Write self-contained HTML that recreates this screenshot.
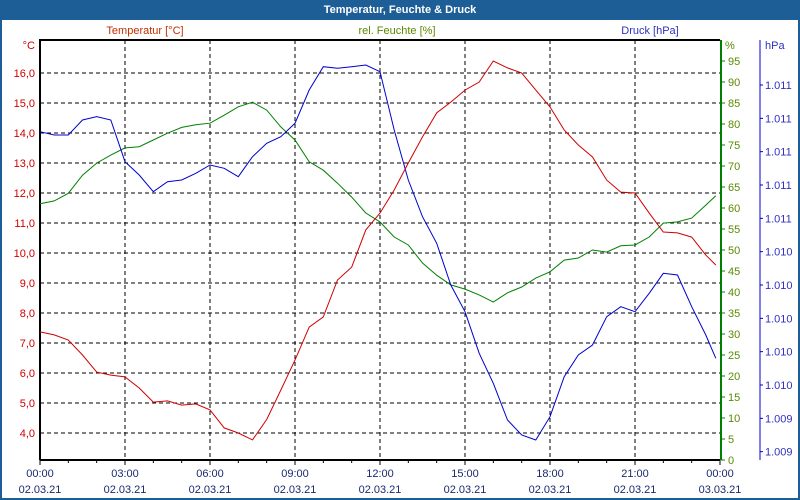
<!DOCTYPE html>
<html><head><meta charset="utf-8"><style>
body{margin:0;background:#fff;}
#wrap{position:relative;width:796px;height:496px;border:2px solid #1d5e96;overflow:hidden;background:#fff;}
#title{position:absolute;left:0;top:0;width:796px;height:18px;background:#1d5e96;color:#fff;font:bold 11px "Liberation Sans",sans-serif;text-align:center;line-height:17px;}
svg{position:absolute;left:-2px;top:-2px;}
</style></head><body>
<div id="wrap">
<div id="title">Temperatur, Feuchte &amp; Druck</div>
<svg id="chart" width="800" height="500" font-family="Liberation Sans, sans-serif" font-size="11"></svg>
</div>
<script>
const hours=[0,0.5,1,1.5,2,2.5,3,3.5,4,4.5,5,5.5,6,6.5,7,7.5,8,8.5,9,9.5,10,10.5,11,11.5,12,12.5,13,13.5,14,14.5,15,15.5,16,16.5,17,17.5,18,18.5,19,19.5,20,20.5,21,21.5,22,22.5,23,23.5,23.85];
const temperature=[7.37,7.27,7.1,6.6,6.03,5.93,5.87,5.5,5.03,5.07,4.93,4.97,4.77,4.17,4.0,3.77,4.45,5.43,6.43,7.53,7.87,9.1,9.53,10.77,11.33,12.1,13.0,13.87,14.67,15.03,15.43,15.7,16.4,16.17,16.0,15.43,14.87,14.1,13.6,13.2,12.43,12.03,12.0,11.33,10.7,10.67,10.53,9.93,9.6];
const humidity=[61.0,61.7,63.5,67.8,70.7,72.6,74.3,74.6,76.2,77.8,79.2,79.8,80.2,82.1,84.1,85.2,83.3,79.3,76.2,71,69,65.9,62.6,58.8,56.7,53.1,51.2,46.9,44,41.7,40.7,39.3,37.6,39.8,41.2,43.3,44.8,47.6,48.1,50,49.5,51,51.2,53.1,56.4,56.7,57.6,60.7,62.9];
const pressure=[1011.12,1011.10,1011.10,1011.19,1011.21,1011.19,1010.94,1010.86,1010.76,1010.82,1010.83,1010.87,1010.92,1010.90,1010.85,1010.97,1011.05,1011.09,1011.17,1011.37,1011.51,1011.50,1011.51,1011.52,1011.48,1011.13,1010.83,1010.61,1010.45,1010.20,1010.04,1009.79,1009.61,1009.39,1009.30,1009.27,1009.41,1009.65,1009.78,1009.84,1010.01,1010.07,1010.04,1010.15,1010.27,1010.26,1010.07,1009.90,1009.76];
const tempTicks=[4,5,6,7,8,9,10,11,12,13,14,15,16];
const humTicks=[0,5,10,15,20,25,30,35,40,45,50,55,60,65,70,75,80,85,90,95];
const presTicks=[1011.4,1011.2,1011.0,1010.8,1010.6,1010.4,1010.2,1010.0,1009.8,1009.6,1009.4,1009.2];
const presTickLabels=["1.011","1.011","1.011","1.011","1.011","1.010","1.010","1.010","1.010","1.010","1.009","1.009"];
const timeLabels=["00:00","03:00","06:00","09:00","12:00","15:00","18:00","21:00","00:00"];
const dateLabels=["02.03.21","02.03.21","02.03.21","02.03.21","02.03.21","02.03.21","02.03.21","02.03.21","03.03.21"];

const L=40,R=720,T=40,B=460;
const x=h=>L+h*(R-L)/24;
const yT=v=>73+(16-v)*30;
const yH=v=>B-v*4.2;
const yP=v=>85+(1011.4-v)*166.67;
const svg=document.getElementById('chart');
const NS='http://www.w3.org/2000/svg';
function mk(tag,attrs,txt){const e=document.createElementNS(NS,tag);for(const k in attrs)e.setAttribute(k,attrs[k]);if(txt!==undefined)e.textContent=txt;svg.appendChild(e);return e;}

tempTicks.forEach(v=>{
  const e=mk('line',{x1:L,x2:R,y1:yT(v),y2:yT(v),stroke:'#000','stroke-dasharray':'4,3','stroke-width':1});
  
  
  const t=mk('text',{x:35,y:yT(v)+4,fill:'#d00000','text-anchor':'end'},v.toFixed(1).replace('.',','));
  
  
});
for(let h=3;h<24;h+=3){
  const e=mk('line',{x1:x(h),x2:x(h),y1:T,y2:B,stroke:'#000','stroke-dasharray':'4,3'});
  
  
}
for(let h=0;h<=24;h++){
  const e=mk('line',{x1:x(h),x2:x(h),y1:B,y2:B+(h%3===0?5:3),stroke:'#000'});
  
  
}
timeLabels.forEach((s,i)=>{
  const t=mk('text',{x:x(i*3),y:477,fill:'#1a2a70','text-anchor':'middle'},s);
  
  
  const d=mk('text',{x:x(i*3),y:493,fill:'#1a2a70','text-anchor':'middle'},dateLabels[i]);
  
  
});
let a=mk('polyline',{points:`${L},${B} ${L},${T} ${R},${T}`,fill:'none',stroke:'#000','stroke-width':2});


a=mk('line',{x1:L,x2:R,y1:B,y2:B,stroke:'#000','stroke-width':2});


a=mk('line',{x1:R+1,x2:R+1,y1:T,y2:B,stroke:'#008000','stroke-width':2});


humTicks.forEach(v=>{
  const e=mk('line',{x1:R+1,x2:R+5,y1:yH(v),y2:yH(v),stroke:'#008000'});
  
  
  const t=mk('text',{x:R+8,y:yH(v)+4,fill:'#5a8a00'},String(v));
  
  
});
a=mk('line',{x1:760,x2:760,y1:T,y2:B,stroke:'#0000d0','stroke-width':1});


presTicks.forEach((v,i)=>{
  const e=mk('line',{x1:760,x2:763,y1:yP(v),y2:yP(v),stroke:'#0000d0'});
  
  
  const t=mk('text',{x:765,y:yP(v)+4,fill:'#3030c0'},presTickLabels[i]);
  
  
});
[['Temperatur [°C]',145,'middle','#c03000','temp-axis-title'],['rel. Feuchte [%]',397,'middle','#5a8a00','humidity-axis-title'],['Druck [hPa]',650,'middle','#3030c0','pressure-axis-title'],['°C',35,'end','#d00000','temp-unit'],['%',725,'start','#5a8a00','humidity-unit'],['hPa',765,'start','#3030c0','pressure-unit']].forEach(d=>{
  const t=mk('text',{x:d[1],y:d[4].endsWith('unit')?49:34,fill:d[3],'text-anchor':d[2]},d[0]);
  
  
});
function line(vals,yf,color,name){
  const pts=hours.map((h,i)=>x(h).toFixed(1)+','+yf(vals[i]).toFixed(1)).join(' ');
  const p=mk('polyline',{points:pts,fill:'none',stroke:color,'stroke-width':1});
  
  
}
line(humidity,yH,'#008000','humidity-line');
line(pressure,yP,'#0000d0','pressure-line');
line(temperature,yT,'#d00000','temperature-line');
</script>
</body></html>
